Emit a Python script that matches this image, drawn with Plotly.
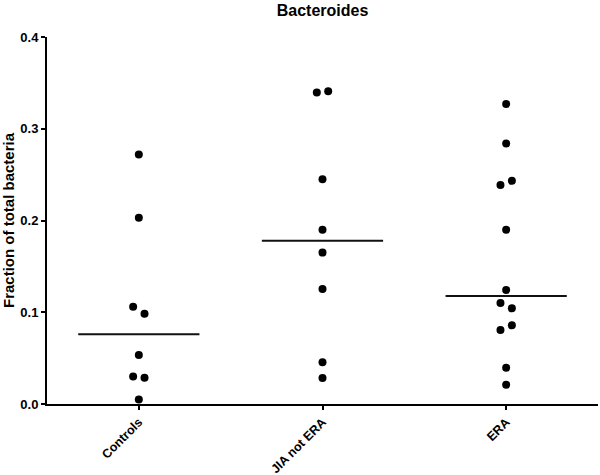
import plotly.graph_objects as go

# --------------------------------------------------
# DATA
# --------------------------------------------------

categories = ["Controls", "JIA not ERA", "ERA"]

controls = [0.272, 0.203, 0.106, 0.0985, 0.0534, 0.0301, 0.0287, 0.005]
controls_jitter = [0, 0, -1, 1, 0, -1, 1, 0]

jia_not_era = [0.3395, 0.341, 0.245, 0.190, 0.165, 0.1254, 0.0454, 0.0284]
jia_jitter = [-1, 1, 0, 0, 0, 0, 0, 0]

era = [0.327, 0.284, 0.2388, 0.2432, 0.190, 0.1243, 0.1101, 0.1043,
       0.0857, 0.0807, 0.0396, 0.021]
era_jitter = [0, 0, -1, 1, 0, 0, -1, 1, 1, -1, 0, 0]

medians = [0.0759, 0.1778, 0.1178]

groups = [controls, jia_not_era, era]
jitters = [controls_jitter, jia_jitter, era_jitter]

# --------------------------------------------------
# FIGURE
# --------------------------------------------------

JITTER_STEP = 0.031
HALF_WIDTH = 0.33
FONT = "Arial, Liberation Sans, sans-serif"

fig = go.Figure()

for i, (vals, jit) in enumerate(zip(groups, jitters)):
    fig.add_trace(
        go.Scatter(
            x=[i + j * JITTER_STEP for j in jit],
            y=vals,
            mode="markers",
            marker=dict(color="black", size=8),
            cliponaxis=False,
            showlegend=False,
            hoverinfo="y"
        )
    )
    fig.add_trace(
        go.Scatter(
            x=[i - HALF_WIDTH, i + HALF_WIDTH],
            y=[medians[i], medians[i]],
            mode="lines",
            line=dict(color="#111111", width=2),
            showlegend=False,
            hoverinfo="skip"
        )
    )

fig.update_layout(
    width=600,
    height=475,
    paper_bgcolor="white",
    plot_bgcolor="white",
    margin=dict(l=47, r=2, t=37, b=71),
    font=dict(family=FONT, color="black"),
    title=dict(
        text="<b>Bacteroides</b>",
        x=0.5,
        xref="paper",
        xanchor="center",
        y=0.979,
        yref="container",
        yanchor="middle",
        font=dict(size=16, family=FONT, color="black")
    ),
    xaxis=dict(
        range=[-0.5, 2.5],
        automargin=False,
        tickmode="array",
        tickvals=list(range(len(categories))),
        ticktext=[f"<b>{c}</b>" for c in categories],
        tickangle=-45,
        tickfont=dict(size=12.5),
        showline=True,
        linecolor="black",
        linewidth=2,
        ticks="outside",
        ticklen=4,
        tickwidth=2,
        tickcolor="black",
        showgrid=False,
        zeroline=False
    ),
    yaxis=dict(
        range=[0, 0.4],
        automargin=False,
        dtick=0.1,
        tickformat=".1f",
        tickprefix="<b>",
        ticksuffix="</b>",
        tickfont=dict(size=13),
        title=dict(text="<b>Fraction of total bacteria</b>", font=dict(size=15), standoff=6),
        showline=True,
        linecolor="black",
        linewidth=2,
        ticks="outside",
        ticklen=4,
        tickwidth=2,
        tickcolor="black",
        showgrid=False,
        zeroline=False
    )
)

# page body has a default 8px margin; drop it so the figure sits at the corner
fig.write_html(
    "out.html",
    config={"displayModeBar": False},
    post_script="document.body.style.margin = '0';"
)
